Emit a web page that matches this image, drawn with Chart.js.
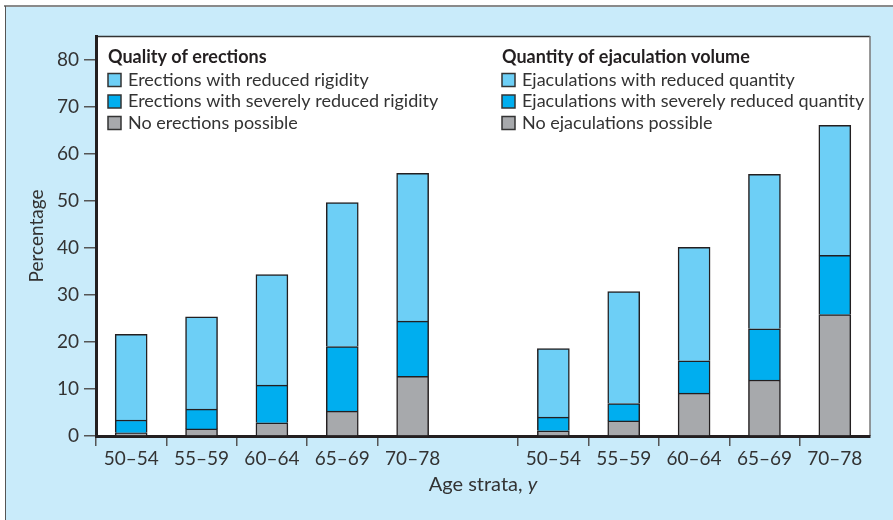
<!DOCTYPE html>
<html>
<head>
<meta charset="utf-8">
<script src="https://cdn.jsdelivr.net/npm/chart.js@4.4.1/dist/chart.umd.min.js"></script>
<style>
  html, body { margin: 0; padding: 0; background: #fff; }
  #wrap { position: relative; width: 893px; height: 520px; }
</style>
</head>
<body>
<div id="wrap"><canvas id="myChart" width="893" height="520"></canvas></div>
<script>
// age groups, same for both panels
const ageStrata = ['50–54', '55–59', '60–64', '65–69', '70–78'];

// quality of erections (%)
const erectReduced = [18.2, 19.6, 23.5, 30.6, 31.4];
const erectSevere = [2.7, 4.2, 8.0, 13.7, 11.7];
const erectNone = [0.7, 1.5, 2.8, 5.3, 12.7];

// quantity of ejaculation volume (%)
const ejacReduced = [14.6, 23.8, 24.1, 32.8, 27.6];
const ejacSevere = [2.9, 3.7, 6.9, 10.9, 12.6];
const ejacNone = [1.1, 3.2, 9.1, 11.9, 25.8];

const yMin = 0, yMax = 85, yStep = 10;

const labels = [...ageStrata, '', ...ageStrata];
const gap = new Array(ageStrata.length + 1).fill(null);
const left = arr => [...arr, ...gap];
const right = arr => [...gap, ...arr];

const cLight = '#6dcff6', cBlue = '#00aeef', cGray = '#a7a9ac';
const ink = '#231f20';
const font = 'Lato';

function ds(label, data, color) {
    return {
        label: label,
        data: data,
        backgroundColor: color,
        borderColor: ink,
        borderWidth: 1.5,
        borderSkipped: 'start',
        barThickness: 32
    };
}

// bottom to top in the stack
const datasets = [
    ds('No erections possible', left(erectNone), cGray),
    ds('Erections with severely reduced rigidity', left(erectSevere), cBlue),
    ds('Erections with reduced rigidity', left(erectReduced), cLight),
    ds('No ejaculations possible', right(ejacNone), cGray),
    ds('Ejaculations with severely reduced quantity', right(ejacSevere), cBlue),
    ds('Ejaculations with reduced quantity', right(ejacReduced), cLight)
];

const frame = {
    id: 'frame',
    beforeDraw(chart) {
        const c = chart.ctx, a = chart.chartArea;
        c.save();
        c.fillStyle = '#fff';
        c.fillRect(0, 0, chart.width, chart.height);
        c.fillStyle = '#c9ebfa';
        c.fillRect(5, 6, chart.width, chart.height);
        c.strokeStyle = '#8a8a8a';
        c.lineWidth = 2;
        c.beginPath(); c.moveTo(4, 6); c.lineTo(chart.width, 6); c.stroke();
        c.strokeStyle = '#555';
        c.lineWidth = 1;
        c.beginPath(); c.moveTo(5.5, 6); c.lineTo(5.5, chart.height); c.stroke();
        c.fillStyle = '#fff';
        c.fillRect(a.left, a.top, a.right - a.left, a.bottom - a.top);
        c.strokeStyle = '#333';
        c.lineWidth = 1.5;
        c.beginPath(); c.moveTo(a.left, a.top + 0.5); c.lineTo(a.right, a.top + 0.5); c.stroke();
        c.strokeStyle = '#777';
        c.beginPath(); c.moveTo(a.right, a.top); c.lineTo(a.right, a.bottom); c.stroke();
        c.restore();
    },
    afterDraw(chart) {
        // x axis title with italic unit
        const c = chart.ctx, a = chart.chartArea;
        c.save();
        c.fillStyle = '#333';
        c.textBaseline = 'middle';
        const t1 = 'Age strata, ';
        c.font = '20px ' + font;
        const w1 = c.measureText(t1).width;
        c.font = 'italic 20px ' + font;
        const w2 = c.measureText('y').width;
        let x = (a.left + a.right) / 2 - (w1 + w2) / 2;
        c.font = '20px ' + font;
        c.fillText(t1, x, 485);
        c.font = 'italic 20px ' + font;
        c.fillText('y', x + w1, 485);
        c.restore();
    }
};

const groupLegend = {
    id: 'groupLegend',
    afterDraw(chart, args, opts) {
        const c = chart.ctx;
        c.save();
        c.textBaseline = 'middle';
        opts.groups.forEach(g => {
            c.fillStyle = ink;
            c.font = 'bold 18px ' + font;
            c.fillText(g.title, g.x, 57);
            g.items.forEach((i, n) => {
                const d = chart.data.datasets[i];
                const y = 80 + n * 21.5;
                c.fillStyle = d.backgroundColor;
                c.fillRect(g.x, y - 6.5, 13, 13);
                c.strokeStyle = '#333';
                c.lineWidth = 1.5;
                c.strokeRect(g.x, y - 6.5, 13, 13);
                c.fillStyle = '#333';
                c.font = '18px ' + font;
                c.fillText(d.label, g.x + 20, y);
            });
        });
        c.restore();
    }
};

var ctx = document.getElementById('myChart').getContext('2d');
var myChart = new Chart(ctx, {
    type: 'bar',
    data: { labels: labels, datasets: datasets },
    options: {
        responsive: false,
        animation: false,
        layout: { padding: { left: 0, top: 36, right: 23, bottom: 0 } },
        plugins: {
            legend: { display: false },
            tooltip: { enabled: false },
            groupLegend: {
                groups: [
                    { title: 'Quality of erections', x: 108, items: [2, 1, 0] },
                    { title: 'Quantity of ejaculation volume', x: 502, items: [5, 4, 3] }
                ]
            }
        },
        scales: {
            x: {
                stacked: true,
                afterFit: s => { s.height = 84; },
                border: { display: true, width: 3, color: ink },
                grid: {
                    drawOnChartArea: false,
                    drawTicks: true,
                    tickLength: 10,
                    lineWidth: 1.5,
                    color: c => labels[c.index] ? '#555' : 'rgba(0,0,0,0)'
                },
                ticks: {
                    color: '#333',
                    padding: 1,
                    maxRotation: 0,
                    autoSkip: false,
                    font: { family: font, size: 19 }
                }
            },
            y: {
                stacked: true,
                min: yMin,
                max: yMax,
                afterFit: s => { s.width = 96; },
                border: { display: true, width: 3, color: ink },
                grid: {
                    drawOnChartArea: false,
                    drawTicks: true,
                    tickLength: 12,
                    lineWidth: 1.5,
                    color: '#555'
                },
                ticks: {
                    stepSize: yStep,
                    includeBounds: false,
                    color: '#333',
                    padding: 5,
                    font: { family: font, size: 19 }
                },
                title: {
                    display: true,
                    text: 'Percentage',
                    color: '#333',
                    padding: { top: 25, bottom: 0 },
                    font: { family: font, size: 19 }
                }
            }
        }
    },
    plugins: [frame, groupLegend]
});
</script>
</body>
</html>
